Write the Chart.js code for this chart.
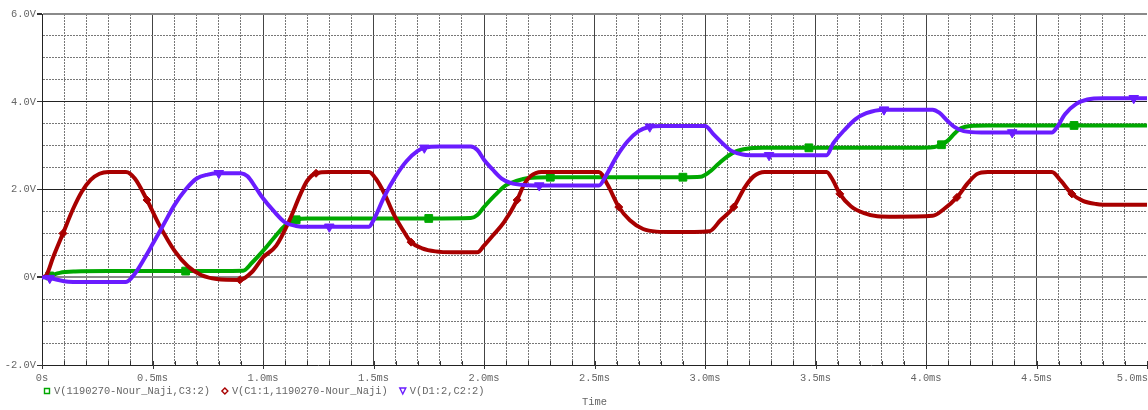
<!DOCTYPE html>
<html>
<head>
<meta charset="utf-8">
<script src="https://cdn.jsdelivr.net/npm/chart.js@4.4.1/dist/chart.umd.min.js"></script>
<style>
  html, body { margin: 0; padding: 0; background: #fff; }
  canvas { display: block; }
</style>
</head>
<body>
<canvas id="scope" width="1148" height="410"></canvas>
<script>
// transient sim, time in ms, voltages in V

// V(1190270-Nour_Naji,C3:2)
const c3Time = [0, 0.035, 0.08, 0.15, 0.3, 0.65, 0.91, 0.95, 1.0, 1.05, 1.1, 1.15, 1.2, 1.45, 1.75,
  1.94, 1.97, 2.0, 2.05, 2.1, 2.15, 2.2, 2.3, 2.6, 2.9, 2.98, 3.02, 3.06, 3.1, 3.14,
  3.19, 3.26, 3.47, 3.8, 4.02, 4.07, 4.1, 4.13, 4.16, 4.2, 4.28, 4.67, 5.0];
const c3Volt = [0, 0.03, 0.1, 0.13, 0.14, 0.14, 0.15, 0.33, 0.6, 0.9, 1.18, 1.31, 1.34, 1.34, 1.34,
  1.35, 1.42, 1.6, 1.87, 2.1, 2.2, 2.26, 2.28, 2.28, 2.28, 2.29, 2.4, 2.58, 2.75, 2.87,
  2.93, 2.95, 2.95, 2.95, 2.96, 3.02, 3.12, 3.28, 3.4, 3.45, 3.46, 3.46, 3.46];
const c3Marks = [0.035, 0.65, 1.15, 1.75, 2.3, 2.9, 3.47, 4.07, 4.67];

// V(C1:1,1190270-Nour_Naji)
const c1Time = [0, 0.02, 0.05, 0.095, 0.14, 0.18, 0.22, 0.26, 0.3, 0.38, 0.42, 0.475, 0.53, 0.6, 0.66,
  0.72, 0.79, 0.895, 0.95, 1.0, 1.06, 1.12, 1.17, 1.2, 1.24, 1.3, 1.48, 1.51, 1.55, 1.59,
  1.63, 1.67, 1.72, 1.78, 1.86, 1.97, 2.0, 2.04, 2.09, 2.15, 2.18, 2.21, 2.26, 2.52, 2.56,
  2.61, 2.66, 2.72, 2.78, 2.86, 3.02, 3.07, 3.13, 3.18, 3.22, 3.27, 3.55, 3.58, 3.61, 3.66,
  3.72, 3.78, 3.86, 4.03, 4.08, 4.14, 4.19, 4.23, 4.28, 4.57, 4.61, 4.66, 4.71, 4.77, 4.85, 5.0];
const c1Volt = [0, 0.05, 0.45, 1.0, 1.55, 1.95, 2.22, 2.36, 2.4, 2.4, 2.25, 1.76, 1.2, 0.6, 0.25,
  0.05, -0.04, -0.06, 0.12, 0.45, 0.72, 1.3, 1.9, 2.2, 2.37, 2.4, 2.4, 2.25, 1.9, 1.45,
  1.1, 0.8, 0.66, 0.59, 0.57, 0.57, 0.72, 0.95, 1.25, 1.76, 2.1, 2.3, 2.4, 2.4, 2.1,
  1.6, 1.3, 1.1, 1.04, 1.03, 1.05, 1.3, 1.6, 2.05, 2.3, 2.4, 2.4, 2.2, 1.9, 1.62,
  1.46, 1.39, 1.38, 1.4, 1.55, 1.82, 2.15, 2.35, 2.4, 2.4, 2.2, 1.9, 1.74, 1.67, 1.65, 1.65];
const c1Marks = [0.095, 0.475, 0.895, 1.24, 1.67, 2.15, 2.61, 3.13, 3.61, 4.14, 4.66];

// V(D1:2,C2:2)
const d1Time = [0, 0.035, 0.1, 0.2, 0.38, 0.42, 0.46, 0.5, 0.55, 0.6, 0.65, 0.7, 0.75, 0.8, 0.9,
  0.93, 0.97, 1.0, 1.05, 1.1, 1.15, 1.2, 1.3, 1.48, 1.5, 1.55, 1.6, 1.65, 1.7, 1.73,
  1.8, 1.94, 1.97, 2.0, 2.04, 2.08, 2.12, 2.18, 2.25, 2.52, 2.55, 2.6, 2.65, 2.7, 2.75,
  2.8, 3.0, 3.04, 3.08, 3.12, 3.17, 3.25, 3.29, 3.55, 3.58, 3.63, 3.68, 3.73, 3.81, 4.03,
  4.06, 4.1, 4.13, 4.17, 4.25, 4.39, 4.57, 4.59, 4.63, 4.68, 4.73, 4.8, 4.94, 5.0];
const d1Volt = [0, -0.02, -0.09, -0.11, -0.11, 0.08, 0.4, 0.75, 1.2, 1.65, 2.0, 2.25, 2.34, 2.37, 2.37,
  2.3, 2.02, 1.8, 1.5, 1.25, 1.17, 1.15, 1.15, 1.15, 1.3, 1.85, 2.3, 2.65, 2.88, 2.95,
  2.98, 2.98, 2.9, 2.68, 2.45, 2.25, 2.15, 2.1, 2.09, 2.09, 2.3, 2.75, 3.1, 3.33, 3.43,
  3.45, 3.45, 3.25, 3.05, 2.88, 2.8, 2.78, 2.78, 2.78, 3.05, 3.35, 3.6, 3.74, 3.82, 3.82,
  3.75, 3.55, 3.42, 3.33, 3.3, 3.3, 3.3, 3.4, 3.72, 3.95, 4.05, 4.08, 4.08, 4.08];
const d1Marks = [0.035, 0.8, 1.3, 1.73, 2.25, 2.75, 3.29, 3.81, 4.39, 4.94];

const traceNames = ['V(1190270-Nour_Naji,C3:2)', 'V(C1:1,1190270-Nour_Naji)', 'V(D1:2,C2:2)'];
const traceColors = ['#00a800', '#a80000', '#6a1cff'];

const xLabelValues = [0, 0.5, 1.0, 1.5, 2.0, 2.5, 3.0, 3.5, 4.0, 4.5, 5.0];
const xTickLabels = ['0s', '0.5ms', '1.0ms', '1.5ms', '2.0ms', '2.5ms', '3.0ms', '3.5ms', '4.0ms', '4.5ms', '5.0ms'];
const yLabelValues = [6, 4, 2, 0, -2];
const yTickLabels = ['6.0V', '4.0V', '2.0V', '0V', '-2.0V'];
const xAxisTitle = 'Time';

const MONO = '"Liberation Mono", "DejaVu Sans Mono", monospace';
const TEXT_GREY = '#666';
const DOTS = [2, 1];

function toPoints(ts, vs) {
  return ts.map((t, i) => ({ x: t, y: vs[i] }));
}

function near(a, b) { return Math.abs(a - b) < 1e-6; }

function markRadius(marks, r) {
  return ctx => (ctx.raw && marks.some(m => near(m, ctx.raw.x))) ? r : 0;
}

function isMajor(v, step) { return near(v / step, Math.round(v / step)); }

function trace(idx, ts, vs, marks, style, r, order) {
  return {
    label: traceNames[idx],
    data: toPoints(ts, vs),
    borderColor: traceColors[idx],
    backgroundColor: traceColors[idx],
    borderWidth: 4,
    cubicInterpolationMode: 'monotone',
    pointStyle: style,
    pointRotation: style === 'triangle' ? 180 : 0,
    pointRadius: markRadius(marks, r),
    pointBorderWidth: 1,
    order: order
  };
}

// axis labels, legend row and axis title all sit below the plot
const probeText = {
  id: 'probeText',
  afterDraw(chart) {
    const ctx = chart.ctx;
    const xs = chart.scales.x;
    const area = chart.chartArea;
    ctx.save();
    ctx.font = '10.4px ' + MONO;
    ctx.fillStyle = TEXT_GREY;
    ctx.textBaseline = 'alphabetic';

    // small ticks poke up from the time axis, major ones cross it
    ctx.strokeStyle = '#333';
    ctx.lineWidth = 1;
    xs.ticks.forEach(t => {
      const px = Math.round(xs.getPixelForValue(t.value)) + 0.5;
      ctx.beginPath();
      ctx.moveTo(px, area.bottom - 4);
      ctx.lineTo(px, isMajor(t.value, 0.5) ? area.bottom + 4 : area.bottom);
      ctx.stroke();
    });

    xLabelValues.forEach((v, i) => {
      const px = xs.getPixelForValue(v);
      const last = i === xLabelValues.length - 1;
      ctx.textAlign = last ? 'right' : 'center';
      ctx.fillText(xTickLabels[i], last ? chart.width : px, 381);
    });

    // legend
    ctx.textAlign = 'left';
    let x = 44;
    const ly = 391;
    traceNames.forEach((name, i) => {
      ctx.strokeStyle = traceColors[i];
      ctx.lineWidth = 1.4;
      ctx.beginPath();
      if (i === 0) {
        ctx.rect(x + 0.5, ly - 2.5, 5, 5);
      } else if (i === 1) {
        ctx.moveTo(x + 3, ly - 3);
        ctx.lineTo(x + 6, ly);
        ctx.lineTo(x + 3, ly + 3);
        ctx.lineTo(x, ly);
        ctx.closePath();
      } else {
        ctx.moveTo(x, ly - 3);
        ctx.lineTo(x + 6, ly - 3);
        ctx.lineTo(x + 3, ly + 3);
        ctx.closePath();
      }
      ctx.stroke();
      ctx.fillStyle = TEXT_GREY;
      ctx.fillText(name, x + 10, 394);
      x += 10 + ctx.measureText(name).width + 12;
    });

    ctx.textAlign = 'center';
    ctx.fillText(xAxisTitle, (area.left + area.right) / 2, 405);
    ctx.restore();
  }
};

new Chart(document.getElementById('scope'), {
  type: 'line',
  data: {
    datasets: [
      trace(0, c3Time, c3Volt, c3Marks, 'rect', 5.5, 3),
      trace(1, c1Time, c1Volt, c1Marks, 'rectRot', 4, 2),
      trace(2, d1Time, d1Volt, d1Marks, 'triangle', 5.5, 1)
    ]
  },
  options: {
    responsive: false,
    animation: false,
    layout: { padding: { top: 14, right: 1, bottom: 0, left: 0 } },
    plugins: {
      legend: { display: false },
      tooltip: { enabled: false }
    },
    scales: {
      x: {
        type: 'linear',
        min: 0,
        max: 5,
        afterBuildTicks: scale => {
          const t = [];
          for (let i = 0; i <= 50; i++) t.push({ value: i / 10 });
          scale.ticks = t;
        },
        afterFit: scale => { scale.height = 45; },
        ticks: { display: false },
        border: {
          display: true,
          color: '#222',
          width: 1,
          dash: ctx => (ctx.tick && !isMajor(ctx.tick.value, 0.5)) ? DOTS : []
        },
        grid: {
          drawTicks: false,
          color: ctx => {
            const v = ctx.tick.value;
            if (near(v, 0) || near(v, 5)) return 'rgba(0,0,0,0)';
            return isMajor(v, 0.5) ? '#444' : '#777';
          },
          lineWidth: 1
        }
      },
      y: {
        min: -2,
        max: 6,
        afterBuildTicks: scale => {
          const t = [];
          for (let i = 0; i <= 16; i++) t.push({ value: -2 + i * 0.5 });
          scale.ticks = t;
        },
        afterFit: scale => { scale.width = 42; },
        ticks: {
          autoSkip: false,
          padding: 1,
          color: TEXT_GREY,
          font: { family: MONO, size: 10.4 },
          callback: v => {
            const i = yLabelValues.findIndex(y => near(y, v));
            return i >= 0 ? yTickLabels[i] : '';
          }
        },
        border: {
          display: true,
          color: '#222',
          width: 1,
          dash: ctx => (ctx.tick && !isMajor(ctx.tick.value, 2)) ? DOTS : []
        },
        grid: {
          tickLength: 5,
          tickColor: ctx => isMajor(ctx.tick.value, 2) ? '#333' : 'rgba(0,0,0,0)',
          color: ctx => {
            const v = ctx.tick.value;
            if (near(v, 6)) return '#8a8a8a';
            if (near(v, 0)) return '#8a8a8a';
            if (near(v, -2)) return 'rgba(0,0,0,0)';
            return isMajor(v, 2) ? '#222' : '#777';
          },
          lineWidth: ctx => {
            const v = ctx.tick.value;
            return (near(v, 6) || near(v, 0)) ? 2 : 1;
          }
        }
      }
    }
  },
  plugins: [probeText]
});
</script>
</body>
</html>
